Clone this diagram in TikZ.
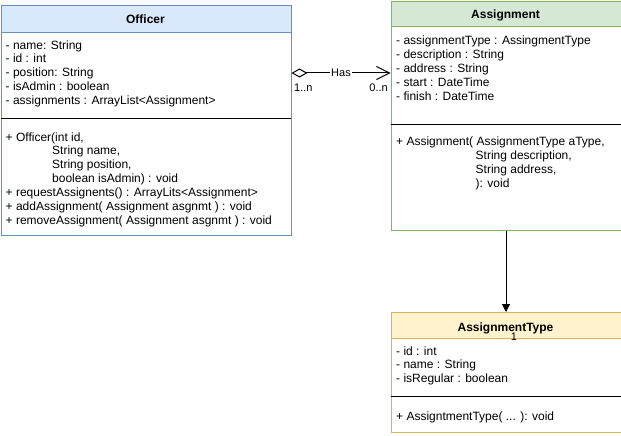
\documentclass[tikz,border=0pt]{standalone}
\usepackage{fontspec}
\setmainfont{Liberation Sans}
\usetikzlibrary{arrows.meta}
\definecolor{bluefill}{HTML}{DAE8FC}
\definecolor{bluestroke}{HTML}{6C8EBF}
\definecolor{greenfill}{HTML}{D5E8D4}
\definecolor{greenstroke}{HTML}{82B366}
\definecolor{yellowfill}{HTML}{FFF2CC}
\definecolor{yellowstroke}{HTML}{D6B656}
\tikzset{
  classbox/.style={draw, fill=white, line width=1pt, inner sep=0pt, anchor=north west},
  headbox/.style={draw, line width=1pt, inner sep=0pt, anchor=north west},
  hdr/.style={anchor=base, inner sep=0pt, font=\fontsize{12}{14}\selectfont\bfseries},
  txt/.style={anchor=base west, inner sep=0pt, font=\fontsize{12}{14}\selectfont},
  lbl/.style={inner sep=0pt, font=\fontsize{11}{13}\selectfont},
  divider/.style={line width=1pt},
  conn/.style={line width=1pt}
}
\begin{document}
\begin{tikzpicture}[x=1pt,y=-1pt]
\useasboundingbox (0,0) rectangle (621,436);

% ---------- Officer ----------
\node[classbox, draw=bluestroke, minimum width=290pt, minimum height=230pt] (officer) at (0.5,5) {};
\node[headbox, draw=bluestroke, fill=bluefill, minimum width=290pt, minimum height=27pt] (officerhead) at (0.5,5) {};
\node[hdr] (officertitle) at (145.5,24) {Officer};
\draw[divider] (0.5,118) -- (290.5,118);
\foreach \t [count=\i] in {{- name: String},{- id : int},{- position: String},{- isAdmin : boolean},{- assignments : ArrayList<Assignment>}}
  \node[txt] (oattr\i) at (5.5,{49+13.9*(\i-1)}) {\t};
\node[txt] (om1) at (5.5,141) {+ Officer(int id,};
\node[txt] (om2) at (52,154.9) {String name,};
\node[txt] (om3) at (52,168.8) {String position,};
\node[txt] (om4) at (52,182.7) {boolean isAdmin) : void};
\node[txt] (om5) at (5.5,196.6) {+ requestAssignents() : ArrayLits<Assignment>};
\node[txt] (om6) at (5.5,210.5) {+ addAssignment( Assignment asgnmt ) : void};
\node[txt] (om7) at (5.5,224.4) {+ removeAssignment( Assignment asgnmt ) : void};

% ---------- Assignment ----------
\node[classbox, draw=greenstroke, minimum width=230pt, minimum height=228.5pt] (assign) at (390.5,1.5) {};
\node[headbox, draw=greenstroke, fill=greenfill, minimum width=230pt, minimum height=24.5pt] (assignhead) at (390.5,1.5) {};
\node[hdr] (assigntitle) at (505.5,19) {Assignment};
\draw[divider] (390.5,124) -- (620.5,124);
\foreach \t [count=\i] in {{- assignmentType : AssingmentType},{- description : String},{- address : String},{- start : DateTime},{- finish : DateTime}}
  \node[txt] (aattr\i) at (396,{44.6+13.9*(\i-1)}) {\t};
\node[txt] (am1) at (396,145.7) {+ Assignment( AssignmentType aType,};
\node[txt] (am2) at (475.5,159.6) {String description,};
\node[txt] (am3) at (475.5,173.5) {String address,};
\node[txt] (am4) at (475.5,187.4) {): void};

% ---------- AssignmentType ----------
\node[classbox, draw=yellowstroke, minimum width=230pt, minimum height=120pt] (atype) at (390.5,312) {};
\node[headbox, draw=yellowstroke, fill=yellowfill, minimum width=230pt, minimum height=26pt] (atypehead) at (390.5,312) {};
\node[hdr] (atypetitle) at (505.5,331) {AssignmentType};
\draw[divider] (390.5,396.5) -- (620.5,396.5);
\foreach \t [count=\i] in {{- id : int},{- name : String},{- isRegular : boolean}}
  \node[txt] (tattr\i) at (396,{355+13.9*(\i-1)}) {\t};
\node[txt] (tm1) at (396,420.5) {+ AssigntmentType( ... ): void};

% ---------- Connectors ----------
\path (officer.north east) ++(0,68) coordinate (hasfrom);
\path (assign.north west) ++(0,71.5) coordinate (hasto);
\draw[conn, {Diamond[open, length=16pt, width=9pt, line width=1pt]}-{Straight Barb[length=13pt, width=13pt, line width=1pt]}]
  (hasfrom) -- node[lbl, fill=white, inner xsep=1pt, pos=0.5] (haslbl) {Has} (hasto);
\node[lbl, anchor=base west] (mult1) at (294,92) {1..n};
\node[lbl, anchor=base east] (mult2) at (388,92) {0..n};

\draw[conn, -{Triangle[length=8pt, width=8pt]}] (assign.south) -- (atype.north);
\node[lbl, anchor=base] (mult3) at (514,340) {1};
\end{tikzpicture}
\end{document}
